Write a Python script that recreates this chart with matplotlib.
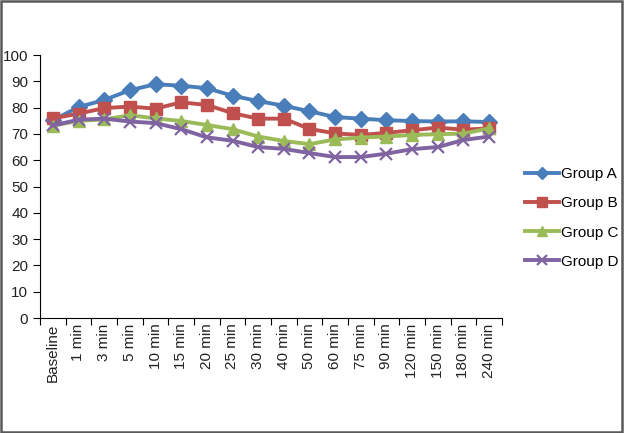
import matplotlib.pyplot as plt
from matplotlib.patches import Rectangle

plt.rcParams['font.family'] = ['Liberation Sans', 'DejaVu Sans']

# Time points and group values
times = ['Baseline', '1 min', '3 min', '5 min', '10 min', '15 min', '20 min',
         '25 min', '30 min', '40 min', '50 min', '60 min', '75 min', '90 min',
         '120 min', '150 min', '180 min', '240 min']
group_a = [75.2, 80.2, 82.9, 86.6, 88.9, 88.3, 87.4, 84.5, 82.5, 80.7,
           78.6, 76.4, 75.8, 75.2, 74.9, 74.7, 74.8, 74.5]
group_b = [75.9, 77.7, 79.8, 80.4, 79.6, 82.0, 81.0, 77.9, 75.8, 75.8,
           71.9, 70.2, 69.6, 70.4, 71.4, 72.4, 71.6, 72.1]
group_c = [73.1, 75.0, 75.5, 77.1, 75.9, 74.9, 73.4, 71.8, 69.0, 67.3,
           66.1, 67.9, 68.6, 69.0, 69.6, 69.9, 70.1, 72.1]
group_d = [73.2, 75.4, 75.8, 74.7, 74.1, 71.8, 68.7, 67.4, 65.0, 64.3,
           62.7, 61.2, 61.2, 62.5, 64.2, 65.0, 67.7, 69.0]

series = [
    ('Group A', group_a, '#4A7EBB', 'D', 8),
    ('Group B', group_b, '#C0504D', 's', 9),
    ('Group C', group_c, '#9BBB59', '^', 9),
    ('Group D', group_d, '#8064A2', 'x', 9),
]

fig = plt.figure(figsize=(6.24, 4.33), dpi=100)
ax = fig.add_axes([40 / 624, 115 / 433, 462 / 624, 263 / 433])

x = list(range(len(times)))
for name, vals, col, mk, ms in series:
    kw = dict(markeredgewidth=1.6) if mk == 'x' else dict(markeredgecolor=col)
    ax.plot(x, vals, color=col, lw=2.8, marker=mk, ms=ms, label=name, **kw)

ax.set_xlim(-0.5, len(times) - 0.5)
ax.set_ylim(0, 100)
ax.set_yticks(range(0, 101, 10))
ax.set_xticks([i - 0.5 for i in range(len(times) + 1)], minor=False)
ax.set_xticklabels([])
ax.set_xticks(x, minor=True)
ax.set_xticklabels(times, minor=True, rotation=90)
ax.tick_params(axis='x', which='minor', length=0, pad=4, labelsize=11)
ax.tick_params(axis='x', which='major', length=5, direction='out')
ax.tick_params(axis='y', length=5, direction='out', labelsize=11)
for t in ax.get_xticklabels(minor=True) + ax.get_yticklabels():
    t.set_color('#222222')

ax.spines['top'].set_visible(False)
ax.spines['right'].set_visible(False)

ax.legend(loc='upper left', bbox_to_anchor=(525 / 624, 266 / 433),
          bbox_transform=fig.transFigure, frameon=False, fontsize=11,
          handlelength=2.2, handletextpad=0.15, labelspacing=1.0,
          borderaxespad=0, borderpad=0, markerscale=0.75)

fig.patches.append(Rectangle((0.002, 0.002), 0.995, 0.996, transform=fig.transFigure,
                             fill=False, edgecolor='#595959', lw=1.8))

fig.savefig('out.png', dpi=100)
